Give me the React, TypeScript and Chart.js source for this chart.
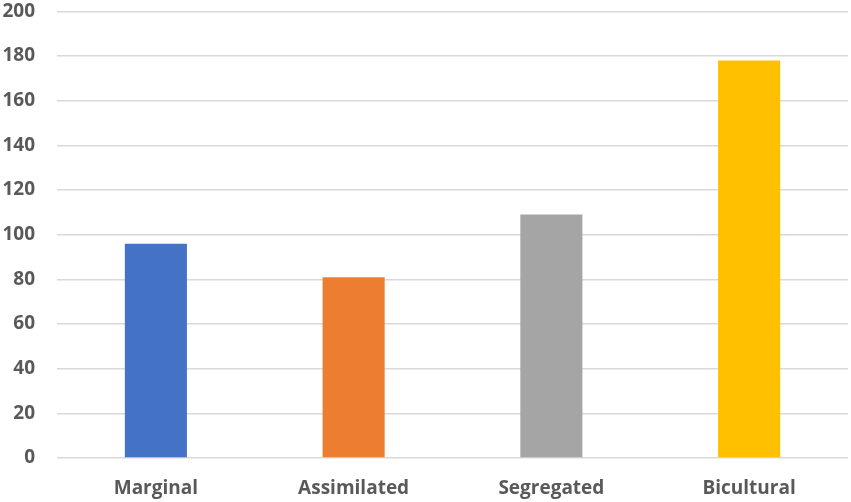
import React, { useEffect, useRef } from "react";
import { Chart, registerables } from "chart.js";

Chart.register(...registerables);

const categories = ["Marginal", "Assimilated", "Segregated", "Bicultural"];
const values = [96, 81, 109, 178];
const colors = ["#4472C4", "#ED7D31", "#A5A5A5", "#FFC000"];

export default function App() {
  const ref = useRef<HTMLCanvasElement>(null);
  useEffect(() => {
    document.body.style.margin = "0";
    const chart = new Chart(ref.current!, {
      type: "bar",
      data: {
        labels: categories,
        datasets: [
          {
            data: values,
            backgroundColor: colors,
            barPercentage: 0.314,
            categoryPercentage: 1,
          },
        ],
      },
      options: {
        animation: false,
        responsive: false,
        maintainAspectRatio: false,
        layout: { padding: { top: 11, left: 3, right: 3, bottom: 0 } },
        plugins: { legend: { display: false }, tooltip: { enabled: false } },
        scales: {
          x: {
            grid: { display: false },
            border: { display: false },
            ticks: {
              color: "#595959",
              font: { family: "Open Sans", size: 19, weight: "bold" },
              padding: 11,
            },
            afterFit: (s: any) => {
              s.height = 44;
            },
          },
          y: {
            min: 0,
            max: 200,
            grid: {
              color: "#d9d9d9",
              lineWidth: 1.5,
              drawTicks: true,
              tickLength: 22,
              tickColor: "rgba(0,0,0,0)",
            },
            border: { display: false },
            ticks: {
              stepSize: 20,
              color: "#595959",
              font: { family: "Open Sans", size: 19, weight: "bold" },
              padding: 0,
            },
            afterFit: (s: any) => {
              s.width = 54;
            },
          },
        },
      },
    });
    return () => chart.destroy();
  }, []);
  return (
    <div style={{ width: 851, height: 502, background: "#fff" }}>
      <canvas ref={ref} width={851} height={502} style={{ display: "block" }} />
    </div>
  );
}
